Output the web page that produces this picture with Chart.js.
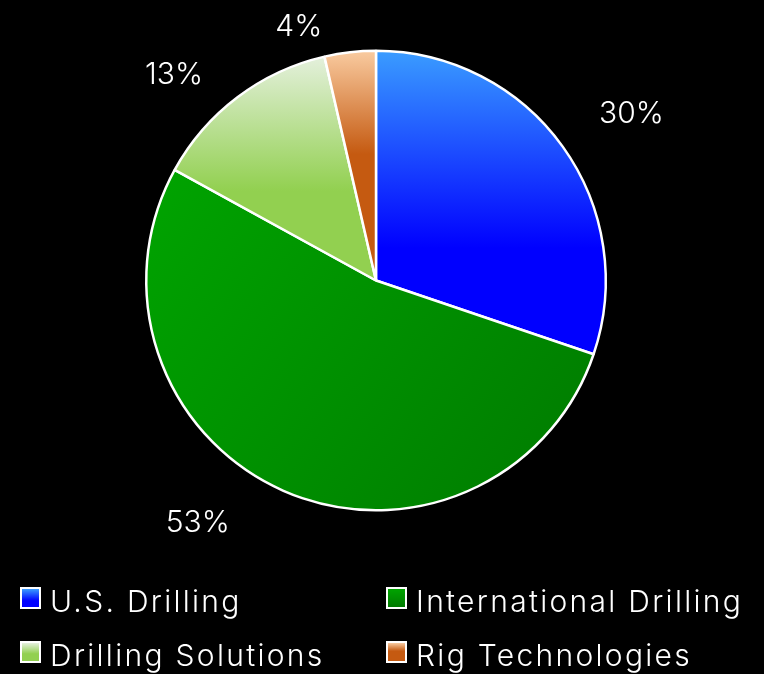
<!DOCTYPE html>
<html><head><meta charset="utf-8">
<script src="https://cdn.jsdelivr.net/npm/chart.js@4.4.1/dist/chart.umd.min.js"></script>
<style>
html,body{margin:0;padding:0;background:#000;width:764px;height:674px;overflow:hidden;font-family:Inter, sans-serif;}
#wrap{position:relative;width:764px;height:674px;}
canvas{position:absolute;left:0;top:0;}
.item{position:absolute;display:flex;align-items:flex-start;color:#fff;font-size:30px;font-weight:300;line-height:36px;white-space:nowrap;letter-spacing:2.3px;}
.box{box-sizing:border-box;width:21px;height:22px;border:2px solid #fff;margin-top:4px;margin-right:9px;}
</style></head>
<body>
<div id="wrap"><canvas id="c" width="764" height="674"></canvas><div id="legend"></div></div>
<script>
// ---- data ----
const categories = ['U.S. Drilling', 'International Drilling', 'Drilling Solutions', 'Rig Technologies'];
const values = [30.2, 52.8, 13.4, 3.6];

// ---- style ----
const gradStops = [
  [[0, '#3a9cff'], [0.65, '#0000ff'], [1, '#0000ff']],
  [[0, '#00a400'], [1, '#007a00']],
  [[0, '#e4f0dc'], [0.6, '#92d050'], [1, '#92d050']],
  [[0, '#f9cba0'], [0.45, '#c55a11'], [1, '#c55a11']]
];
const gradDiag = [false, true, false, false];
const solid = ['#0000ff', '#008a00', '#92d050', '#c55a11'];
const BW = 2.5;
const labelAngleShift = [2.24, 12.74, -7.12, -10.32];
const labelRadius = [1.332, 1.304, 1.261, 1.162];
const LABEL_FONT = 30;
const legendCols = [20, 386];
const legendRows = [583, 636.5];

const total = values.reduce((a, b) => a + b, 0);

function sliceGradient(context) {
  const chart = context.chart;
  const area = chart.chartArea;
  const i = context.dataIndex;
  if (!area || i === undefined) return solid[i] || '#888';
  const cx = (area.left + area.right) / 2, cy = (area.top + area.bottom) / 2;
  const r = (Math.min(area.width, area.height) - BW) / 2;
  let before = 0;
  for (let k = 0; k < i; k++) before += values[k];
  const a0 = -Math.PI / 2 + before / total * 2 * Math.PI;
  const a1 = a0 + values[i] / total * 2 * Math.PI;
  const xs = [cx, cx + r * Math.cos(a0), cx + r * Math.cos(a1)];
  const ys = [cy, cy + r * Math.sin(a0), cy + r * Math.sin(a1)];
  [-Math.PI / 2, 0, Math.PI / 2, Math.PI, 1.5 * Math.PI].forEach(k => {
    if (k >= a0 && k <= a1) { xs.push(cx + r * Math.cos(k)); ys.push(cy + r * Math.sin(k)); }
  });
  const xmin = Math.min(...xs), xmax = Math.max(...xs), ymin = Math.min(...ys), ymax = Math.max(...ys);
  const g = gradDiag[i]
    ? chart.ctx.createLinearGradient(xmin, ymin, xmax, ymax)
    : chart.ctx.createLinearGradient(0, ymin, 0, ymax);
  gradStops[i].forEach(s => g.addColorStop(s[0], s[1]));
  return g;
}

const labelPlugin = {
  id: 'pctLabels',
  afterDatasetsDraw(chart) {
    const meta = chart.getDatasetMeta(0);
    const ctx = chart.ctx;
    ctx.save();
    ctx.fillStyle = '#fff';
    ctx.font = '300 ' + LABEL_FONT + 'px Inter';
    ctx.textAlign = 'center';
    ctx.textBaseline = 'alphabetic';
    meta.data.forEach((arc, i) => {
      const mid = (arc.startAngle + arc.endAngle) / 2 + labelAngleShift[i] * Math.PI / 180;
      const rr = arc.outerRadius * labelRadius[i];
      const x = arc.x + Math.cos(mid) * rr, y = arc.y + Math.sin(mid) * rr;
      ctx.fillText(Math.round(values[i] / total * 100) + '%', x, y + 0.364 * LABEL_FONT);
    });
    ctx.restore();
  }
};

function draw() {
  new Chart(document.getElementById('c'), {
    type: 'pie',
    data: {
      labels: categories,
      datasets: [{
        data: values,
        backgroundColor: sliceGradient,
        borderColor: '#ffffff',
        borderWidth: BW
      }]
    },
    options: {
      responsive: false,
      animation: false,
      events: [],
      layout: { padding: { top: 49, bottom: 162, left: 145, right: 157 } },
      plugins: { legend: { display: false }, tooltip: { enabled: false } }
    },
    plugins: [labelPlugin]
  });
}

// ---- legend (HTML) ----
const legend = document.getElementById('legend');
categories.forEach((name, i) => {
  const item = document.createElement('div');
  item.className = 'item';
  item.style.left = legendCols[i % 2] + 'px';
  item.style.top = legendRows[Math.floor(i / 2)] + 'px';
  const box = document.createElement('div');
  box.className = 'box';
  box.style.background = 'linear-gradient(to bottom,' + gradStops[i].map(s => s[1] + ' ' + (s[0] * 100) + '%').join(',') + ')';
  const txt = document.createElement('span');
  txt.textContent = name;
  item.appendChild(box);
  item.appendChild(txt);
  legend.appendChild(item);
});

if (document.fonts && document.fonts.load) {
  document.fonts.load('300 30px Inter').then(draw, draw);
} else { draw(); }
</script>
</body></html>
